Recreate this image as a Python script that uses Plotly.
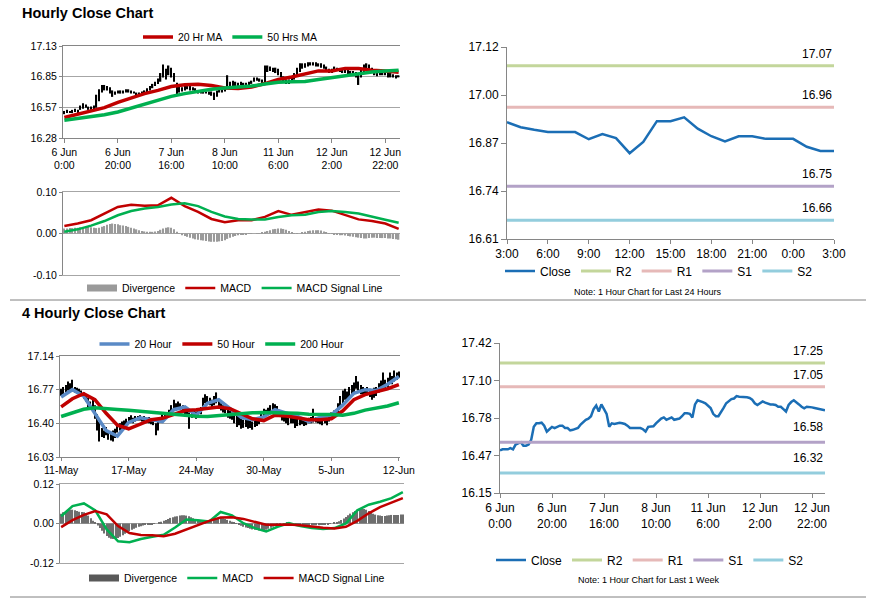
import numpy as np
import plotly.graph_objects as go

FONT = "Arial, Liberation Sans, sans-serif"
W, H = 873, 601

RED = "#C00000"
GREEN = "#00B050"
BLUE20 = "#5A8AC6"
CLOSE_BLUE = "#1B6EB5"
R2C, R1C, S1C, S2C = "#C3D69B", "#E6B9B8", "#B3A2C7", "#93CDDD"
GRID = "#A6A6A6"
AXIS = "#868686"
DIV_TOP = "#9A9A9A"
DIV_BOTTOM = "#6E6E6E"

# ---------------- Hourly data (1 week, 126 hourly bars) ----------------
h_tick_labels = ["6 Jun<br>0:00", "6 Jun<br>20:00", "7 Jun<br>16:00", "8 Jun<br>10:00",
                 "11 Jun<br>6:00", "12 Jun<br>2:00", "12 Jun<br>22:00"]
h_close = [16.51, 16.52, 16.52, 16.52, 16.53, 16.52, 16.56, 16.57, 16.58, 16.55,
           16.55, 16.56, 16.60, 16.71, 16.74, 16.74, 16.745, 16.72, 16.67, 16.69,
           16.71, 16.70, 16.71, 16.72, 16.72, 16.70, 16.70, 16.68, 16.685, 16.69,
           16.70, 16.73, 16.75, 16.77, 16.78, 16.80, 16.86, 16.89, 16.84, 16.90,
           16.86, 16.82, 16.71, 16.74, 16.735, 16.74, 16.745, 16.74, 16.735, 16.72,
           16.70, 16.70, 16.70, 16.70, 16.70, 16.69, 16.67, 16.71, 16.71, 16.715,
           16.74, 16.76, 16.78, 16.79, 16.77, 16.78, 16.79, 16.77, 16.775, 16.78,
           16.80, 16.825, 16.825, 16.82, 16.79, 16.90, 16.935, 16.93, 16.92, 16.91,
           16.89, 16.87, 16.82, 16.80, 16.80, 16.83, 16.87, 16.91, 16.93, 16.945,
           16.95, 16.97, 16.965, 16.965, 16.962, 16.96, 16.955, 16.94, 16.91, 16.895,
           16.91, 16.925, 16.915, 16.905, 16.90, 16.90, 16.895, 16.88, 16.88, 16.86,
           16.84, 16.895, 16.92, 16.935, 16.92, 16.90, 16.88, 16.867, 16.88, 16.88,
           16.875, 16.87, 16.865, 16.855, 16.85, 16.85]
h_high = [16.53, 16.54, 16.53, 16.54, 16.55, 16.54, 16.58, 16.60, 16.59, 16.57,
          16.57, 16.58, 16.68, 16.73, 16.77, 16.77, 16.76, 16.75, 16.72, 16.71,
          16.72, 16.72, 16.72, 16.73, 16.73, 16.72, 16.71, 16.70, 16.70, 16.71,
          16.72, 16.74, 16.76, 16.78, 16.80, 16.83, 16.88, 16.96, 16.92, 16.95,
          16.93, 16.88, 16.79, 16.76, 16.75, 16.76, 16.76, 16.76, 16.75, 16.74,
          16.72, 16.71, 16.71, 16.71, 16.71, 16.71, 16.70, 16.72, 16.73, 16.73,
          16.75, 16.86, 16.80, 16.81, 16.80, 16.79, 16.80, 16.79, 16.79, 16.80,
          16.81, 16.84, 16.84, 16.83, 16.82, 16.95, 16.95, 16.94, 16.93, 16.93,
          16.92, 16.89, 16.85, 16.82, 16.82, 16.84, 16.88, 16.93, 16.97, 16.97,
          16.97, 16.98, 16.98, 16.98, 16.98, 16.97, 16.97, 16.96, 16.94, 16.92,
          16.92, 16.94, 16.93, 16.92, 16.92, 16.91, 16.91, 16.90, 16.90, 16.89,
          16.88, 16.92, 16.96, 16.97, 16.96, 16.93, 16.90, 16.89, 16.89, 16.89,
          16.89, 16.88, 16.88, 16.87, 16.86, 16.86]
h_low = [16.50, 16.51, 16.51, 16.51, 16.52, 16.51, 16.54, 16.55, 16.56, 16.54,
         16.54, 16.54, 16.56, 16.62, 16.70, 16.72, 16.72, 16.69, 16.66, 16.68,
         16.69, 16.69, 16.69, 16.70, 16.70, 16.69, 16.69, 16.67, 16.67, 16.68,
         16.69, 16.70, 16.72, 16.74, 16.76, 16.78, 16.80, 16.84, 16.82, 16.86,
         16.84, 16.80, 16.68, 16.70, 16.71, 16.72, 16.73, 16.72, 16.72, 16.71,
         16.69, 16.69, 16.69, 16.69, 16.68, 16.67, 16.63, 16.66, 16.70, 16.70,
         16.71, 16.74, 16.75, 16.76, 16.75, 16.76, 16.77, 16.76, 16.76, 16.77,
         16.78, 16.80, 16.81, 16.80, 16.78, 16.78, 16.89, 16.90, 16.89, 16.88,
         16.86, 16.84, 16.79, 16.78, 16.78, 16.79, 16.82, 16.86, 16.89, 16.92,
         16.93, 16.94, 16.95, 16.95, 16.94, 16.94, 16.93, 16.92, 16.89, 16.88,
         16.88, 16.90, 16.90, 16.89, 16.88, 16.88, 16.87, 16.86, 16.86, 16.84,
         16.77, 16.84, 16.89, 16.90, 16.89, 16.88, 16.86, 16.85, 16.86, 16.86,
         16.86, 16.84, 16.84, 16.84, 16.83, 16.84]
# moving averages / MACD sampled every 5 hourly bars
h_ma20 = [16.47, 16.50, 16.53, 16.56, 16.61, 16.65, 16.69, 16.72, 16.755, 16.772,
          16.777, 16.765, 16.742, 16.738, 16.75, 16.783, 16.82, 16.843, 16.868, 16.90,
          16.90, 16.923, 16.922, 16.905, 16.898, 16.887]
h_ma50 = [16.444, 16.46, 16.475, 16.495, 16.52, 16.555, 16.59, 16.63, 16.665, 16.69,
          16.712, 16.73, 16.742, 16.75, 16.76, 16.778, 16.795, 16.80, 16.803, 16.82,
          16.837, 16.853, 16.875, 16.89, 16.898, 16.907]
h_macd = [0.018, 0.024, 0.032, 0.048, 0.064, 0.069, 0.067, 0.068, 0.086, 0.066,
          0.052, 0.035, 0.027, 0.032, 0.032, 0.040, 0.054, 0.045, 0.052, 0.058,
          0.055, 0.044, 0.034, 0.030, 0.024, 0.011]
h_signal = [0.004, 0.010, 0.019, 0.030, 0.044, 0.054, 0.060, 0.064, 0.070, 0.073,
            0.066, 0.052, 0.041, 0.035, 0.034, 0.034, 0.040, 0.044, 0.045, 0.052,
            0.054, 0.052, 0.048, 0.040, 0.033, 0.026]
h_div = [0.012, 0.012, 0.013, 0.013, 0.014, 0.014, 0.015, 0.015, 0.016, 0.016,
         0.015, 0.014, 0.013, 0.014, 0.016, 0.018, 0.021, 0.023, 0.024, 0.023,
         0.022, 0.020, 0.019, 0.018, 0.016, 0.014, 0.012, 0.010, 0.008, 0.006,
         0.005, 0.004, 0.004, 0.004, 0.005, 0.006, 0.009, 0.012, 0.014, 0.015,
         0.014, 0.010, 0.004, -0.001, -0.004, -0.006, -0.008, -0.010, -0.012, -0.014,
         -0.015, -0.016, -0.017, -0.018, -0.019, -0.020, -0.020, -0.020, -0.019, -0.018,
         -0.016, -0.013, -0.010, -0.008, -0.006, -0.004, -0.003, -0.002, -0.002, -0.001,
         -0.001, 0.000, 0.001, 0.001, 0.002, 0.004, 0.006, 0.008, 0.010, 0.011,
         0.012, 0.012, 0.011, 0.009, 0.006, 0.003, 0.001, -0.001, 0.000, 0.002,
         0.004, 0.006, 0.007, 0.008, 0.008, 0.008, 0.007, 0.005, 0.003, 0.001,
         -0.001, -0.002, -0.003, -0.004, -0.004, -0.005, -0.006, -0.007, -0.008, -0.009,
         -0.010, -0.011, -0.012, -0.012, -0.011, -0.010, -0.010, -0.011, -0.011, -0.011,
         -0.011, -0.012, -0.012, -0.013, -0.014, -0.015]

# ---------------- Last 24 hours ----------------
d_hours = ["3:00", "4:00", "5:00", "6:00", "7:00", "8:00", "9:00", "10:00", "11:00",
           "12:00", "13:00", "14:00", "15:00", "16:00", "17:00", "18:00", "19:00",
           "20:00", "21:00", "22:00", "23:00", "0:00", "1:00", "2:00", "3:00"]
d_close = [16.92, 16.907, 16.90, 16.894, 16.894, 16.894, 16.875, 16.889, 16.878, 16.838,
           16.868, 16.923, 16.923, 16.933, 16.903, 16.883, 16.869, 16.883, 16.883, 16.876,
           16.876, 16.876, 16.855, 16.844, 16.844]
d_levels = {"R2": 17.07, "R1": 16.96, "S1": 16.75, "S2": 16.66}
w_levels = {"R2": 17.25, "R1": 17.05, "S1": 16.58, "S2": 16.32}

# ---------------- 4-hourly data (151 bars) ----------------
f_tick_labels = ["11-May", "17-May", "24-May", "30-May", "5-Jun", "12-Jun"]
f_high = [16.78, 16.80, 16.82, 16.86, 16.84, 16.88, 16.80, 16.79, 16.78, 16.76,
          16.74, 16.72, 16.68, 16.64, 16.66, 16.60, 16.50, 16.42, 16.35, 16.32,
          16.36, 16.30, 16.30, 16.32, 16.34, 16.38, 16.40, 16.42, 16.43, 16.45,
          16.47, 16.49, 16.46, 16.48, 16.48, 16.49, 16.47, 16.48, 16.46, 16.47,
          16.45, 16.44, 16.40, 16.44, 16.47, 16.50, 16.52, 16.51, 16.55, 16.60,
          16.66, 16.62, 16.64, 16.62, 16.60, 16.58, 16.57, 16.52, 16.54, 16.55,
          16.53, 16.54, 16.58, 16.68, 16.72, 16.70, 16.68, 16.66, 16.70, 16.74,
          16.66, 16.62, 16.60, 16.58, 16.55, 16.54, 16.52, 16.50, 16.48, 16.47,
          16.46, 16.44, 16.46, 16.44, 16.43, 16.42, 16.44, 16.45, 16.47, 16.52,
          16.56, 16.55, 16.57, 16.60, 16.62, 16.61, 16.59, 16.55, 16.50, 16.49,
          16.48, 16.47, 16.46, 16.48, 16.46, 16.45, 16.44, 16.46, 16.45, 16.44,
          16.46, 16.47, 16.56, 16.47, 16.46, 16.45, 16.44, 16.47, 16.46, 16.48,
          16.52, 16.54, 16.55, 16.62, 16.70, 16.76, 16.78, 16.75, 16.80, 16.82,
          16.85, 16.92, 16.86, 16.82, 16.80, 16.78, 16.80, 16.78, 16.76, 16.79,
          16.80, 16.84, 16.87, 16.96, 16.88, 16.90, 16.96, 16.92, 16.98, 16.96,
          16.97]
f_low = [16.70, 16.72, 16.74, 16.76, 16.75, 16.76, 16.74, 16.73, 16.72, 16.70,
         16.67, 16.64, 16.58, 16.55, 16.55, 16.45, 16.32, 16.20, 16.25, 16.24,
         16.27, 16.22, 16.21, 16.20, 16.24, 16.30, 16.32, 16.33, 16.36, 16.38,
         16.40, 16.41, 16.40, 16.42, 16.43, 16.43, 16.42, 16.42, 16.41, 16.40,
         16.39, 16.38, 16.27, 16.32, 16.41, 16.43, 16.45, 16.46, 16.48, 16.52,
         16.55, 16.54, 16.56, 16.55, 16.52, 16.50, 16.48, 16.34, 16.46, 16.47,
         16.45, 16.46, 16.50, 16.56, 16.62, 16.63, 16.60, 16.58, 16.60, 16.62,
         16.58, 16.54, 16.52, 16.51, 16.46, 16.45, 16.44, 16.40, 16.36, 16.38,
         16.34, 16.35, 16.36, 16.34, 16.35, 16.33, 16.36, 16.37, 16.39, 16.45,
         16.48, 16.47, 16.49, 16.50, 16.52, 16.51, 16.50, 16.47, 16.43, 16.42,
         16.40, 16.38, 16.40, 16.40, 16.35, 16.37, 16.38, 16.39, 16.37, 16.38,
         16.40, 16.40, 16.41, 16.41, 16.40, 16.39, 16.38, 16.40, 16.38, 16.42,
         16.45, 16.47, 16.48, 16.52, 16.58, 16.62, 16.66, 16.65, 16.68, 16.70,
         16.74, 16.78, 16.76, 16.72, 16.70, 16.70, 16.71, 16.69, 16.66, 16.68,
         16.70, 16.74, 16.76, 16.80, 16.78, 16.80, 16.84, 16.83, 16.86, 16.88,
         16.90]
# moving averages / MACD sampled every 5 four-hour bars
f_ma20 = [16.69, 16.77, 16.70, 16.51, 16.32, 16.26, 16.41, 16.46, 16.44, 16.42,
          16.55, 16.58, 16.49, 16.62, 16.66, 16.56, 16.465, 16.44, 16.47, 16.55,
          16.51, 16.475, 16.42, 16.465, 16.49, 16.60, 16.73, 16.77, 16.76, 16.83,
          16.915]
f_ma50 = [16.58, 16.67, 16.725, 16.66, 16.51, 16.38, 16.34, 16.39, 16.44, 16.455,
          16.50, 16.54, 16.55, 16.565, 16.58, 16.56, 16.51, 16.45, 16.43, 16.49,
          16.48, 16.457, 16.44, 16.44, 16.45, 16.535, 16.66, 16.715, 16.75, 16.78,
          16.825]
f_ma200 = [16.475, 16.51, 16.555, 16.57, 16.565, 16.552, 16.543, 16.535, 16.522, 16.51,
           16.50, 16.485, 16.477, 16.475, 16.487, 16.50, 16.508, 16.515, 16.518, 16.518,
           16.515, 16.51, 16.50, 16.50, 16.497, 16.49, 16.51, 16.545, 16.565, 16.59,
           16.626]
f_macd = [0.022, 0.053, 0.061, 0.040, -0.018, -0.054, -0.057, -0.047, -0.040, -0.034,
          -0.012, 0.012, 0.010, 0.006, 0.035, 0.025, 0.001, -0.014, -0.024, -0.010,
          0.001, -0.008, -0.014, -0.017, -0.014, 0.000, 0.040, 0.057, 0.066, 0.077,
          0.095]
f_signal = [-0.011, 0.010, 0.026, 0.038, 0.028, -0.008, -0.029, -0.035, -0.036, -0.039,
            -0.031, -0.018, -0.006, 0.008, 0.018, 0.019, 0.014, 0.004, -0.004, -0.004,
            -0.003, -0.005, -0.010, -0.013, -0.015, -0.010, 0.008, 0.031, 0.050, 0.063,
            0.077]
f_div = [0.030, 0.034, 0.038, 0.040, 0.042, 0.042, 0.040, 0.038, 0.036, 0.035,
         0.034, 0.030, 0.024, 0.016, 0.008, 0.002, -0.006, -0.014, -0.022, -0.030,
         -0.038, -0.043, -0.046, -0.047, -0.046, -0.044, -0.040, -0.036, -0.031, -0.027,
         -0.023, -0.019, -0.016, -0.013, -0.010, -0.008, -0.006, -0.004, -0.003, -0.002,
         -0.002, -0.001, 0.000, 0.002, 0.005, 0.008, 0.011, 0.014, 0.017, 0.019,
         0.021, 0.022, 0.024, 0.025, 0.025, 0.024, 0.022, 0.019, 0.016, 0.012,
         0.010, 0.008, 0.006, 0.006, 0.008, 0.010, 0.012, 0.014, 0.016, 0.017,
         0.017, 0.016, 0.014, 0.011, 0.008, 0.005, 0.002, -0.001, -0.004, -0.007,
         -0.010, -0.012, -0.014, -0.016, -0.018, -0.019, -0.020, -0.021, -0.021, -0.020,
         -0.019, -0.016, -0.013, -0.010, -0.007, -0.004, -0.002, 0.000, 0.001, 0.002,
         0.002, 0.001, 0.000, -0.001, -0.002, -0.003, -0.003, -0.004, -0.004, -0.005,
         -0.005, -0.005, -0.005, -0.005, -0.004, -0.004, -0.003, -0.002, -0.001, 0.000,
         0.002, 0.004, 0.007, 0.011, 0.015, 0.020, 0.025, 0.030, 0.034, 0.038,
         0.041, 0.043, 0.044, 0.044, 0.042, 0.038, 0.034, 0.030, 0.027, 0.025,
         0.024, 0.023, 0.023, 0.024, 0.025, 0.026, 0.026, 0.026, 0.026, 0.027,
         0.027]

# axis ranges and tick labels
h_price_ticks = ["16.28", "16.57", "16.85", "17.13"]
h_macd_ticks = ["-0.10", "0.00", "0.10"]
d_price_ticks = ["16.61", "16.74", "16.87", "17.00", "17.12"]
f_price_ticks = ["16.03", "16.40", "16.77", "17.14"]
f_macd_ticks = ["-0.12", "0.00", "0.12"]
w_price_ticks = ["16.15", "16.47", "16.78", "17.10", "17.42"]


def tv(lo, hi, labels):
    return list(np.linspace(lo, hi, len(labels)))


def dx(a, b):
    return [a / W, b / W]


def dy(top, bottom):
    return [1 - bottom / H, 1 - top / H]


fig = go.Figure()

h_idx = list(range(len(h_close)))
h_ma_idx = list(range(0, len(h_close), 5))
f_idx = list(range(len(f_high)))
f_ma_idx = list(range(0, len(f_high), 5))
d_idx = list(range(len(d_close)))


def legend_swatch(name, color, legend, xa, ya):
    # legend entry for divergence histogram drawn as a wide flat block
    return go.Scatter(x=[None], y=[None], mode="lines", name=name,
                      line=dict(color=color, width=7), xaxis=xa, yaxis=ya, legend=legend,
                      hoverinfo="skip")


# ---- 1. hourly close (top-left) ----
fig.add_trace(go.Bar(x=h_idx, y=np.array(h_high) - np.array(h_low), base=h_low, width=0.5,
                     marker=dict(color="black", line_width=0), showlegend=False,
                     xaxis="x", yaxis="y"))
fig.add_trace(go.Scatter(x=h_ma_idx, y=h_ma20, mode="lines", name="20 Hr MA",
                         line=dict(color=RED, width=3.5), xaxis="x", yaxis="y", legend="legend"))
fig.add_trace(go.Scatter(x=h_ma_idx, y=h_ma50, mode="lines", name="50 Hrs MA",
                         line=dict(color=GREEN, width=3.5), xaxis="x", yaxis="y", legend="legend"))

# ---- 2. hourly MACD ----
fig.add_trace(go.Bar(x=h_idx, y=h_div, width=0.5, name="Divergence", showlegend=False,
                     marker=dict(color=DIV_TOP, line_width=0), xaxis="x2", yaxis="y2"))
fig.add_trace(legend_swatch("Divergence", DIV_TOP, "legend2", "x2", "y2"))
fig.add_trace(go.Scatter(x=h_ma_idx, y=h_macd, mode="lines", name="MACD",
                         line=dict(color=RED, width=2.5), xaxis="x2", yaxis="y2", legend="legend2"))
fig.add_trace(go.Scatter(x=h_ma_idx, y=h_signal, mode="lines", name="MACD Signal Line",
                         line=dict(color=GREEN, width=2.5), xaxis="x2", yaxis="y2", legend="legend2"))

# ---- 3. last 24 hours ----
fig.add_trace(go.Scatter(x=d_idx, y=d_close, mode="lines", name="Close",
                         line=dict(color=CLOSE_BLUE, width=2.5), xaxis="x3", yaxis="y3",
                         legend="legend3"))
for nm, col in [("R2", R2C), ("R1", R1C), ("S1", S1C), ("S2", S2C)]:
    v = d_levels[nm]
    fig.add_trace(go.Scatter(x=[d_idx[0], d_idx[-1]], y=[v, v], mode="lines", name=nm,
                             line=dict(color=col, width=3), xaxis="x3", yaxis="y3",
                             legend="legend3"))

# ---- 4. 4-hourly close ----
fig.add_trace(go.Bar(x=f_idx, y=np.array(f_high) - np.array(f_low), base=f_low, width=0.5,
                     marker=dict(color="black", line_width=0), showlegend=False,
                     xaxis="x4", yaxis="y4"))
fig.add_trace(go.Scatter(x=f_ma_idx, y=f_ma20, mode="lines", name="20 Hour",
                         line=dict(color=BLUE20, width=3.5), xaxis="x4", yaxis="y4", legend="legend4"))
fig.add_trace(go.Scatter(x=f_ma_idx, y=f_ma50, mode="lines", name="50 Hour",
                         line=dict(color=RED, width=3.5), xaxis="x4", yaxis="y4", legend="legend4"))
fig.add_trace(go.Scatter(x=f_ma_idx, y=f_ma200, mode="lines", name="200 Hour",
                         line=dict(color=GREEN, width=3.5), xaxis="x4", yaxis="y4", legend="legend4"))

# ---- 5. 4-hourly MACD ----
fig.add_trace(go.Bar(x=f_idx, y=f_div, width=0.5, name="Divergence", showlegend=False,
                     marker=dict(color=DIV_BOTTOM, line_width=0), xaxis="x5", yaxis="y5"))
fig.add_trace(legend_swatch("Divergence", "#595959", "legend5", "x5", "y5"))
fig.add_trace(go.Scatter(x=f_ma_idx, y=f_macd, mode="lines", name="MACD",
                         line=dict(color=GREEN, width=2.5), xaxis="x5", yaxis="y5", legend="legend5"))
fig.add_trace(go.Scatter(x=f_ma_idx, y=f_signal, mode="lines", name="MACD Signal Line",
                         line=dict(color=RED, width=2.5), xaxis="x5", yaxis="y5", legend="legend5"))

# ---- 6. last week hourly close ----
fig.add_trace(go.Scatter(x=h_idx, y=h_close, mode="lines", name="Close",
                         line=dict(color=CLOSE_BLUE, width=2.5), xaxis="x6", yaxis="y6",
                         legend="legend6"))
for nm, col in [("R2", R2C), ("R1", R1C), ("S1", S1C), ("S2", S2C)]:
    v = w_levels[nm]
    fig.add_trace(go.Scatter(x=[h_idx[0], h_idx[-1]], y=[v, v], mode="lines", name=nm,
                             line=dict(color=col, width=3), xaxis="x6", yaxis="y6",
                             legend="legend6"))

SMALL = dict(family=FONT, size=10.5, color="#000000")
BIG = dict(family=FONT, size=12, color="#000000")

base_ax = dict(showline=True, linecolor=AXIS, linewidth=1, zeroline=False, ticks="outside",
               tickcolor=AXIS, ticklen=4, fixedrange=True, automargin=False)
framed_x = dict(showline=True, mirror=True, linecolor=GRID, linewidth=1, showticklabels=False,
                showgrid=False, zeroline=False, ticks="", fixedrange=True, automargin=False)

layout = dict(
    template="none",
    width=W, height=H, autosize=False, margin=dict(l=0, r=0, t=0, b=0, pad=0),
    paper_bgcolor="white", plot_bgcolor="white", barmode="overlay",
    font=dict(family=FONT, size=11, color="#000000"),
    # 1
    xaxis=dict(base_ax, domain=dx(63, 400), anchor="y", range=[-0.5, len(h_close) - 0.5],
               tickvals=list(range(0, len(h_close), 20)), ticktext=h_tick_labels,
               tickfont=SMALL, showgrid=False),
    yaxis=dict(base_ax, domain=dy(46, 138), anchor="x", range=[16.28, 17.13],
               tickvals=tv(16.28, 17.13, h_price_ticks), ticktext=h_price_ticks,
               tickfont=SMALL, showgrid=True, gridcolor=GRID, ticklen=3),
    # 2
    xaxis2=dict(framed_x, domain=dx(63, 400), anchor="y2", range=[-0.5, len(h_close) - 0.5]),
    yaxis2=dict(base_ax, domain=dy(192, 275), anchor="x2", range=[-0.1, 0.1],
                tickvals=tv(-0.1, 0.1, h_macd_ticks), ticktext=h_macd_ticks,
                tickfont=SMALL, showgrid=True, gridcolor=GRID, ticklen=3),
    # 3
    xaxis3=dict(base_ax, domain=dx(507, 834), anchor="y3", range=[0, len(d_close) - 1],
                tickvals=d_idx[::3], ticktext=d_hours[::3], tickfont=BIG, showgrid=False),
    yaxis3=dict(base_ax, domain=dy(47, 239), anchor="x3", range=[16.61, 17.12],
                tickvals=tv(16.61, 17.12, d_price_ticks), ticktext=d_price_ticks,
                tickfont=BIG, showgrid=False, ticklen=5),
    # 4
    xaxis4=dict(base_ax, domain=dx(60, 400), anchor="y4", range=[-0.5, len(f_high) - 0.5],
                tickvals=list(range(0, len(f_high), 30)), ticktext=f_tick_labels,
                tickfont=SMALL, showgrid=False, ticklen=3),
    yaxis4=dict(base_ax, domain=dy(356, 457), anchor="x4", range=[16.03, 17.14],
                tickvals=tv(16.03, 17.14, f_price_ticks), ticktext=f_price_ticks,
                tickfont=SMALL, showgrid=True, gridcolor=GRID, ticklen=3),
    # 5
    xaxis5=dict(framed_x, domain=dx(60, 404), anchor="y5", range=[-0.5, len(f_high) - 0.5]),
    yaxis5=dict(base_ax, domain=dy(484, 563), anchor="x5", range=[-0.12, 0.12],
                tickvals=tv(-0.12, 0.12, f_macd_ticks), ticktext=f_macd_ticks,
                tickfont=SMALL, showgrid=True, gridcolor=GRID, ticklen=3),
    # 6
    xaxis6=dict(base_ax, domain=dx(500, 825), anchor="y6", range=[0, len(h_close) - 1],
                tickvals=list(range(0, len(h_close), 20)), ticktext=h_tick_labels,
                tickfont=BIG, showgrid=False),
    yaxis6=dict(base_ax, domain=dy(343, 493), anchor="x6", range=[16.15, 17.42],
                tickvals=tv(16.15, 17.42, w_price_ticks), ticktext=w_price_ticks,
                tickfont=BIG, showgrid=False, ticklen=5),
)
# top border lines of the price panels (gridline at the top tick)
layout["xaxis"]["mirror"] = True
layout["xaxis4"]["mirror"] = True

LEG = dict(orientation="h", xanchor="center", yanchor="middle", bgcolor="rgba(0,0,0,0)",
           borderwidth=0, itemwidth=30, traceorder="normal")
layout["legend"] = dict(LEG, x=230 / W, y=1 - 37 / H, font=SMALL)
layout["legend2"] = dict(LEG, x=235 / W, y=1 - 288 / H, font=SMALL)
layout["legend3"] = dict(LEG, x=659 / W, y=1 - 271 / H, font=BIG)
layout["legend4"] = dict(LEG, x=222 / W, y=1 - 344 / H, font=SMALL)
layout["legend5"] = dict(LEG, x=237 / W, y=1 - 578 / H, font=SMALL)
layout["legend6"] = dict(LEG, x=650 / W, y=1 - 560 / H, font=BIG)

annotations = [
    dict(text="<b>Hourly Close Chart</b>", xref="paper", yref="paper", x=20 / W, y=1 - 13 / H,
         xanchor="left", yanchor="middle", showarrow=False, font=dict(family=FONT, size=14.5)),
    dict(text="<b>4 Hourly Close Chart</b>", xref="paper", yref="paper", x=20 / W, y=1 - 313 / H,
         xanchor="left", yanchor="middle", showarrow=False, font=dict(family=FONT, size=14.5)),
    dict(text="Note: 1 Hour Chart for Last 24 Hours", xref="paper", yref="paper", x=648 / W,
         y=1 - 292 / H, xanchor="center", yanchor="middle", showarrow=False,
         font=dict(family=FONT, size=9)),
    dict(text="Note: 1 Hour Chart for Last 1 Week", xref="paper", yref="paper", x=648 / W,
         y=1 - 580 / H, xanchor="center", yanchor="middle", showarrow=False,
         font=dict(family=FONT, size=9)),
]
for nm in ["R2", "R1", "S1", "S2"]:
    annotations.append(dict(text=f"{d_levels[nm]:.2f}", xref="x3", yref="y3", x=d_idx[-1],
                            y=d_levels[nm], xanchor="right", yanchor="bottom", yshift=3,
                            showarrow=False, font=BIG))
for nm in ["R2", "R1", "S1", "S2"]:
    annotations.append(dict(text=f"{w_levels[nm]:.2f}", xref="x6", yref="y6", x=h_idx[-1],
                            y=w_levels[nm], xanchor="right", yanchor="bottom",
                            yshift=3 if nm in ("R2", "R1") else 6,
                            showarrow=False, font=BIG))
layout["annotations"] = annotations

layout["shapes"] = [
    dict(type="line", xref="paper", yref="paper", x0=10 / W, x1=866 / W, y0=1 - 300 / H,
         y1=1 - 300 / H, line=dict(color="#808080", width=1)),
    dict(type="line", xref="paper", yref="paper", x0=10 / W, x1=866 / W, y0=1 - 597 / H,
         y1=1 - 597 / H, line=dict(color="#808080", width=1)),
]

fig.update_layout(**layout)
fig.write_html("out.html", config={"displayModeBar": False},
               post_script="document.body.style.margin='0px';document.body.style.overflow='hidden';")
